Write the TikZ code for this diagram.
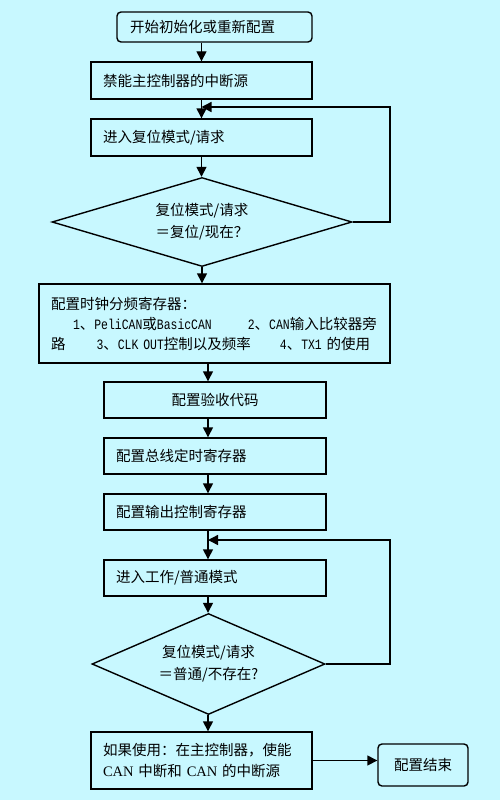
\documentclass[tikz,border=0pt]{standalone}
\usepackage{fontspec}
\setmainfont{Noto Sans CJK SC}
\newfontfamily\monofam[FakeStretch=0.8]{Liberation Mono}
\newfontfamily\tmsfam{Liberation Serif}
\usetikzlibrary{arrows.meta,shapes.geometric}
\definecolor{bg}{RGB}{200,248,255}
\newcommand\mn[1]{{\monofam\fontsize{14.3}{20}\selectfont #1}}
\newcommand\tm[1]{{\tmsfam #1}}
\begin{document}
\begin{tikzpicture}[x=1pt,y=-1pt,
  font=\fontsize{14.5}{21}\selectfont,
  box/.style={draw,line width=1.4pt,inner ysep=0pt,align=left},
  rbox/.style={box,rounded corners=4pt},
  dia/.style={draw,line width=1.4pt,diamond,inner sep=0pt,align=center},
  arr/.style={line width=1.4pt,-{Triangle[length=10pt,width=10pt]}}]
\fill[bg] (0,0) rectangle (500,800);
\useasboundingbox (0,0) rectangle (500,800);
\node[rbox, text width=169pt, inner xsep=13pt, minimum height=30pt] (b1) at (214.5,27) {开始初始化或重新配置};
\node[box, text width=197pt, inner xsep=12pt, minimum height=37pt] (b2) at (201.5,80.5) {禁能主控制器的中断源};
\node[box, text width=197pt, inner xsep=12pt, minimum height=37pt] (b3) at (201.5,137.5) {进入复位模式/请求};
\node[dia, aspect=3.37, minimum width=300pt, minimum height=89pt, font=\fontsize{14.5}{22}\selectfont] (d1) at (202,222) {复位模式/请求\\＝复位/现在？};
\node[box, text width=327pt, inner xsep=12pt, minimum height=79pt, font=\fontsize{14.5}{20}\selectfont] (b4) at (214.5,323.5) {\mbox{配置时钟分频寄存器：}\\
\mbox{\hspace*{22pt}\mn{1}、\mn{PeliCAN}或\mn{BasicCAN}\hspace*{36pt}\mn{2}、\mn{CAN}输入比较器旁}\\
\mbox{路\hspace*{31pt}\mn{3}、\mn{CLK OUT}控制以及频率\hspace*{29pt}\mn{4}、\mn{TX1 }的使用}\par\vspace{6pt}};
\node[box, text width=198pt, inner xsep=12pt, minimum height=36pt, align=center] (b5) at (215,400) {配置验收代码};
\node[box, text width=198pt, inner xsep=12pt, minimum height=36pt] (b6) at (215,456) {配置总线定时寄存器};
\node[box, text width=198pt, inner xsep=12pt, minimum height=36pt] (b7) at (215,512) {配置输出控制寄存器};
\node[box, text width=198pt, inner xsep=12pt, minimum height=36pt] (b8) at (215,578) {进入工作/普通模式};
\node[dia, aspect=2.3, minimum width=233pt, minimum height=101pt, font=\fontsize{14.5}{22}\selectfont] (d2) at (208.5,664) {复位模式/请求\\＝普通/不存在?};
\node[box, text width=197pt, inner xsep=12pt, minimum height=57pt] (b9) at (201.5,760.5) {如果使用：在主控制器，使能\\\tm{CAN} 中断和 \tm{CAN} 的中断源};
\node[rbox, minimum width=90pt, minimum height=42pt, align=center, inner xsep=0pt] (b10) at (423,765) {配置结束};
\coordinate (sp) at (208,0);
\coordinate (r1) at (390,107);
\coordinate (r2) at (390,540);
\draw[arr] (b2.north |- b1.south) -- (b2.north);
\draw[arr] (b2.south) -- (b3.north);
\draw[arr] (d1.east) -| (r1) -- (b3.north |- r1);
\draw[arr] (b3.south) -- (b3.south |- d1.north);
\draw[arr] (d1.south) -- (d1.south |- b4.north);
\draw[arr] (sp |- b4.south) -- (sp |- b5.north);
\draw[arr] (sp |- b5.south) -- (sp |- b6.north);
\draw[arr] (sp |- b6.south) -- (sp |- b7.north);
\draw[arr] (sp |- b7.south) -- (sp |- b8.north);
\draw[arr] (d2.east) -| (r2) -- (sp |- r2);
\draw[arr] (sp |- b8.south) -- (sp |- d2.north);
\draw[arr] (sp |- d2.south) -- (sp |- b9.north);
\draw[arr] (b9.east) -- (b9.east -| b10.west);
\end{tikzpicture}
\end{document}
